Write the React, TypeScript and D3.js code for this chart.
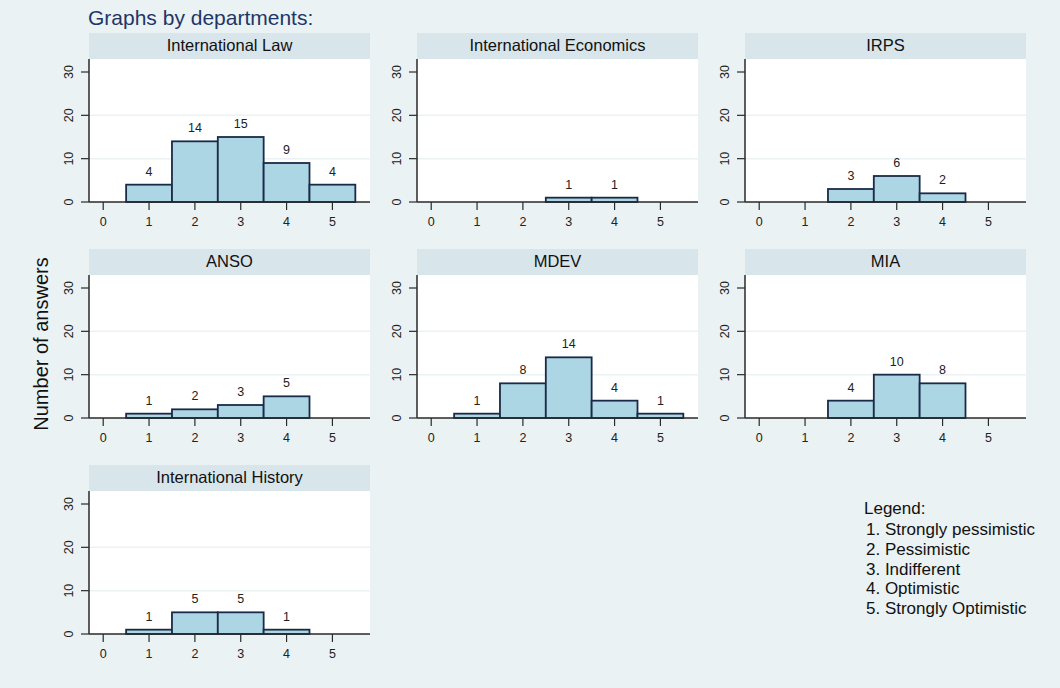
import React from "react";
import * as d3 from "d3";

const categories = [1, 2, 3, 4, 5];
const xTicks = [0, 1, 2, 3, 4, 5];
const yTicks = [0, 10, 20, 30];
const gridTicks = [10, 20];

const departments = [
  "International Law",
  "International Economics",
  "IRPS",
  "ANSO",
  "MDEV",
  "MIA",
  "International History",
];

const lawCounts = [4, 14, 15, 9, 4];
const econCounts = [null, null, 1, 1, null];
const irpsCounts = [null, 3, 6, 2, null];
const ansoCounts = [1, 2, 3, 5, null];
const mdevCounts = [1, 8, 14, 4, 1];
const miaCounts = [null, 4, 10, 8, null];
const historyCounts = [1, 5, 5, 1, null];

const allCounts: (number | null)[][] = [
  lawCounts,
  econCounts,
  irpsCounts,
  ansoCounts,
  mdevCounts,
  miaCounts,
  historyCounts,
];

const legendTitle = "Legend:";
const legendItems = [
  "1. Strongly pessimistic",
  "2. Pessimistic",
  "3. Indifferent",
  "4. Optimistic",
  "5. Strongly Optimistic",
];

const W = 1060;
const H = 688;
const FONT = "'Liberation Sans', Arial, Helvetica, sans-serif";
const BG = "#eaf2f3";
const STRIP = "#d8e5ea";
const BAR_FILL = "#acd6e4";
const BAR_STROKE = "#1b2a48";
const AXIS = "#2a2a2a";

const panelLeft0 = 89;
const colStep = 328;
const panelW = 281;
const stripTop0 = 33;
const rowStep = 216;
const stripH = 26;
const plotH = 143;

function Panel({ idx }: { idx: number }) {
  const col = idx % 3;
  const row = Math.floor(idx / 3);
  const left = panelLeft0 + col * colStep;
  const stripTop = stripTop0 + row * rowStep;
  const top = stripTop + stripH;
  const bottom = top + plotH;
  const right = left + panelW;

  const x = d3.scaleLinear().domain([-0.31, 5.82]).range([left, right]);
  const y = d3.scaleLinear().domain([0, 33]).range([bottom, top]);
  const counts = allCounts[idx];

  return (
    <g>
      <rect x={left} y={stripTop} width={panelW} height={stripH} fill={STRIP} />
      <text
        x={(left + right) / 2}
        y={stripTop + 18}
        textAnchor="middle"
        fontSize={16.5}
        fill="#111"
      >
        {departments[idx]}
      </text>
      <rect x={left} y={top} width={panelW} height={plotH} fill="#fff" />
      {gridTicks.map((t) => (
        <line
          key={t}
          x1={left}
          x2={right}
          y1={y(t)}
          y2={y(t)}
          stroke={BG}
          strokeWidth={1.5}
        />
      ))}
      {categories.map((c, i) => {
        const v = counts[i];
        if (v == null) return null;
        return (
          <g key={c}>
            <rect
              x={x(c - 0.5)}
              y={y(v)}
              width={x(c + 0.5) - x(c - 0.5)}
              height={y(0) - y(v)}
              fill={BAR_FILL}
              stroke={BAR_STROKE}
              strokeWidth={1.8}
            />
            <text
              x={x(c)}
              y={y(v) - 9}
              textAnchor="middle"
              fontSize={12.5}
              fill="#222"
            >
              {v}
            </text>
          </g>
        );
      })}
      <line x1={left} x2={left} y1={top} y2={bottom} stroke={AXIS} strokeWidth={1.5} />
      <line x1={left} x2={right} y1={bottom} y2={bottom} stroke={AXIS} strokeWidth={1.5} />
      {yTicks.map((t) => (
        <g key={t}>
          <line x1={left - 8} x2={left} y1={y(t)} y2={y(t)} stroke={AXIS} strokeWidth={1.2} />
          <text
            transform={`translate(${left - 16},${y(t)}) rotate(-90)`}
            textAnchor="middle"
            fontSize={12.5}
            fill="#222"
          >
            {t}
          </text>
        </g>
      ))}
      {xTicks.map((t) => (
        <g key={t}>
          <line x1={x(t)} x2={x(t)} y1={bottom} y2={bottom + 8} stroke={AXIS} strokeWidth={1.2} />
          <text x={x(t)} y={bottom + 24} textAnchor="middle" fontSize={12.5} fill="#222">
            {t}
          </text>
        </g>
      ))}
    </g>
  );
}

export default function App() {
  return (
    <div style={{ position: "absolute", left: 0, top: 0 }}>
      <svg width={W} height={H} style={{ display: "block", fontFamily: FONT }}>
        <rect x={0} y={0} width={W} height={H} fill={BG} />
        <text x={88} y={25} fontSize={21} fill="#1f3668">
          Graphs by departments:
        </text>
        <text
          transform={`translate(48,344) rotate(-90)`}
          textAnchor="middle"
          fontSize={20}
          fill="#111"
        >
          Number of answers
        </text>
        {departments.map((_, i) => (
          <Panel key={i} idx={i} />
        ))}
        <text x={864} y={514} fontSize={17} fill="#111">
          {legendTitle}
        </text>
        {legendItems.map((s, i) => (
          <text key={s} x={866} y={535 + i * 19.8} fontSize={17} fill="#111">
            {s}
          </text>
        ))}
      </svg>
    </div>
  );
}
